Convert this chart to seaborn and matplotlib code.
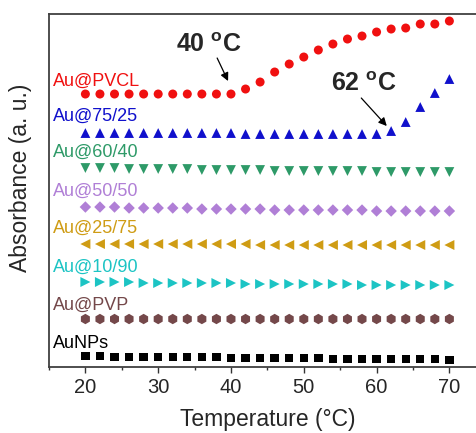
import pandas as pd
import matplotlib
matplotlib.use("Agg")
import matplotlib.pyplot as plt
import seaborn as sns
from matplotlib.ticker import MultipleLocator

# temperatures (°C), one point every 2 degrees
temps = [20, 22, 24, 26, 28, 30, 32, 34, 36, 38, 40, 42, 44,
         46, 48, 50, 52, 54, 56, 58, 60, 62, 64, 66, 68, 70]

# absorbance curves (a. u., stacked offsets)
pvcl = [2.73, 2.73, 2.73, 2.73, 2.73, 2.73, 2.73, 2.73, 2.73, 2.73, 2.73, 2.78, 2.85,
        2.95, 3.03, 3.10, 3.17, 3.23, 3.28, 3.31, 3.35, 3.38, 3.39, 3.43, 3.43, 3.46]
p7525 = [2.34, 2.34, 2.34, 2.34, 2.34, 2.34, 2.34, 2.34, 2.34, 2.34, 2.34, 2.33, 2.33,
         2.33, 2.33, 2.33, 2.33, 2.33, 2.33, 2.33, 2.33, 2.36, 2.45, 2.60, 2.74, 2.88]
p6040 = [1.99, 1.99, 1.99, 1.98, 1.98, 1.98, 1.98, 1.98, 1.97, 1.97, 1.97, 1.97, 1.97,
         1.96, 1.96, 1.96, 1.96, 1.96, 1.96, 1.96, 1.95, 1.95, 1.95, 1.95, 1.95, 1.95]
p5050 = [1.60, 1.60, 1.60, 1.59, 1.59, 1.59, 1.59, 1.59, 1.58, 1.58, 1.58, 1.58, 1.58,
         1.57, 1.57, 1.57, 1.57, 1.57, 1.57, 1.57, 1.56, 1.56, 1.56, 1.56, 1.56, 1.56]
p2575 = [1.23, 1.23, 1.23, 1.23, 1.23, 1.23, 1.23, 1.23, 1.23, 1.23, 1.23, 1.23, 1.22,
         1.22, 1.22, 1.22, 1.22, 1.22, 1.22, 1.22, 1.22, 1.22, 1.22, 1.22, 1.22, 1.22]
p1090 = [0.85, 0.85, 0.85, 0.85, 0.84, 0.84, 0.84, 0.84, 0.84, 0.84, 0.84, 0.83, 0.83,
         0.83, 0.83, 0.83, 0.83, 0.83, 0.83, 0.82, 0.82, 0.82, 0.82, 0.82, 0.82, 0.82]
pvp = [0.48, 0.48, 0.48, 0.48, 0.48, 0.48, 0.48, 0.48, 0.48, 0.48, 0.48, 0.48, 0.48,
       0.48, 0.48, 0.48, 0.48, 0.48, 0.48, 0.48, 0.48, 0.48, 0.48, 0.48, 0.48, 0.48]
aunps = [0.11, 0.11, 0.10, 0.10, 0.10, 0.10, 0.10, 0.10, 0.10, 0.10, 0.09, 0.09, 0.09,
         0.09, 0.09, 0.09, 0.09, 0.08, 0.08, 0.08, 0.08, 0.08, 0.08, 0.08, 0.08, 0.07]

samples = ["Au@PVCL", "Au@75/25", "Au@60/40", "Au@50/50",
           "Au@25/75", "Au@10/90", "Au@PVP", "AuNPs"]
series = [pvcl, p7525, p6040, p5050, p2575, p1090, pvp, aunps]
label_y = [2.81, 2.46, 2.10, 1.71, 1.34, 0.95, 0.57, 0.19]

colors = ["#f01010", "#1010cc", "#2e9a68", "#b07fd6",
          "#cf9c14", "#1cc4c4", "#74484a", "#000000"]
markers = ["o", "^", "v", "D", "<", ">", "h", "s"]
marker_area = [42, 50, 50, 34, 52, 52, 56, 36]

rows = []
for name, vals in zip(samples, series):
    for t, v in zip(temps, vals):
        rows.append({"Temperature": t, "Absorbance": v, "sample": name})
df = pd.DataFrame(rows)

sns.set_style("ticks")
plt.rcParams["font.family"] = ["Liberation Sans", "DejaVu Sans"]
plt.rcParams["mathtext.fontset"] = "custom"
plt.rcParams["mathtext.rm"] = "Liberation Sans"
plt.rcParams["mathtext.bf"] = "Liberation Sans:bold"

fig = plt.figure(figsize=(4.77, 4.33), dpi=100)
ax = fig.add_axes([0.1027, 0.1524, 0.9157, 0.8152])

sns.scatterplot(data=df, x="Temperature", y="Absorbance", hue="sample",
                style="sample", size="sample",
                palette=dict(zip(samples, colors)),
                markers=dict(zip(samples, markers)),
                sizes=dict(zip(samples, marker_area)),
                linewidth=0, legend=False, ax=ax)

for name, c, y in zip(samples, colors, label_y):
    ax.text(15.5, y, name, color=c, fontsize=13, va="baseline", ha="left")

# transition annotations
ax.text(37.0, 3.22, r"40 $\mathbf{^o}$C", fontsize=18, fontweight="bold",
        ha="center", va="center")
ax.annotate("", xy=(39.6, 2.86), xytext=(38.1, 3.09),
            arrowprops=dict(arrowstyle="-|>", color="black", lw=0.9,
                            shrinkA=0, shrinkB=0, mutation_scale=12))
ax.text(58.3, 2.83, r"62 $\mathbf{^o}$C", fontsize=18, fontweight="bold",
        ha="center", va="center")
ax.annotate("", xy=(61.4, 2.41), xytext=(57.9, 2.69),
            arrowprops=dict(arrowstyle="-|>", color="black", lw=0.9,
                            shrinkA=0, shrinkB=0, mutation_scale=12))

ax.set_xlim(15, 75)
ax.set_ylim(0, 3.53)
ax.set_yticks([])
ax.xaxis.set_major_locator(MultipleLocator(10))
ax.xaxis.set_minor_locator(MultipleLocator(5))
ax.tick_params(axis="x", which="major", direction="out", length=4, width=1,
               labelsize=14.5, pad=4, color="#333333")
ax.tick_params(axis="x", which="minor", direction="out", length=2.5, width=1,
               color="#333333")
for sp in ax.spines.values():
    sp.set_visible(True)
    sp.set_color("#404040")
    sp.set_linewidth(1.3)

ax.set_xlabel("Temperature (°C)", fontsize=16.5, labelpad=8)
ax.set_ylabel("Absorbance (a. u.)", fontsize=16.5)
ax.yaxis.set_label_coords(-0.04, 0.535)

fig.savefig("out.png", dpi=100)
